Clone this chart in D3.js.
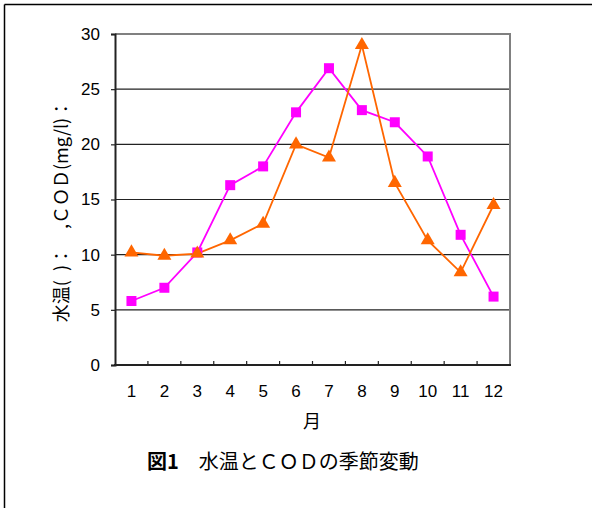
<!DOCTYPE html>
<html>
<head>
<meta charset="utf-8">
<script src="https://cdn.jsdelivr.net/npm/d3@7/dist/d3.min.js"></script>
<style>
  html, body { margin: 0; padding: 0; background: #fff; }
  svg { display: block; }
</style>
</head>
<body>
<svg id="chart" width="592" height="508"></svg>
<script>
// Monthly water temperature and COD
const months = ["1","2","3","4","5","6","7","8","9","10","11","12"];
const waterTemp = [5.8, 7.0, 10.2, 16.3, 18.0, 22.9, 26.9, 23.1, 22.0, 18.9, 11.8, 6.2];
const cod = [10.2, 9.9, 10.1, 11.3, 12.8, 20.0, 18.8, 29.0, 16.5, 11.3, 8.4, 14.5];
const yTicks = [0, 5, 10, 15, 20, 25, 30];

const svg = d3.select("#chart");
const W = 592, H = 508;
const plot = { left: 115, right: 510, top: 34, bottom: 365 };

const numFont = "'Liberation Sans', Arial, sans-serif";
const jpFont = "'Noto Sans CJK JP', sans-serif";

// outer frame (top and left edges)
svg.append("line").attr("x1", 4.5).attr("y1", 4.5).attr("x2", W).attr("y2", 4.5)
  .attr("stroke", "#000").attr("stroke-width", 1.5);
svg.append("line").attr("x1", 4.5).attr("y1", 4.5).attr("x2", 4.5).attr("y2", H)
  .attr("stroke", "#000").attr("stroke-width", 1.5);

const x = d3.scaleBand().domain(months).range([plot.left, plot.right]);
const y = d3.scaleLinear().domain([0, 30]).range([plot.bottom, plot.top]);

// horizontal gridlines
svg.append("g").selectAll("line")
  .data(yTicks.filter(t => t > 0 && t < 30))
  .join("line")
  .attr("x1", plot.left).attr("x2", plot.right)
  .attr("y1", d => y(d)).attr("y2", d => y(d))
  .attr("stroke", "#222").attr("stroke-width", 1.2);

// top and right border (gray)
svg.append("path")
  .attr("d", `M${plot.left},${plot.top}H${plot.right}V${plot.bottom}`)
  .attr("fill", "none").attr("stroke", "#808080").attr("stroke-width", 2);

// y axis
const yAxis = svg.append("g")
  .attr("transform", `translate(${plot.left},0)`)
  .call(d3.axisLeft(y).tickValues(yTicks).tickSize(4).tickPadding(11));
yAxis.select(".domain").attr("stroke", "#222").attr("stroke-width", 2);
yAxis.selectAll(".tick line").attr("stroke", "#222").attr("stroke-width", 1.2);
yAxis.selectAll("text").attr("font-family", numFont).attr("font-size", 17).attr("fill", "#000");

// x axis: ticks at band boundaries pointing inward
const xAxis = svg.append("g").attr("transform", `translate(0,${plot.bottom})`);
xAxis.append("line").attr("x1", plot.left - 1).attr("x2", plot.right + 1)
  .attr("stroke", "#222").attr("stroke-width", 2);
xAxis.selectAll(".bt").data(months.slice(1)).join("line")
  .attr("class", "bt")
  .attr("x1", d => x(d)).attr("x2", d => x(d))
  .attr("y1", 0).attr("y2", -4)
  .attr("stroke", "#222").attr("stroke-width", 1.2);
xAxis.selectAll("text").data(months).join("text")
  .attr("x", d => x(d) + x.bandwidth() / 2)
  .attr("y", 32)
  .attr("text-anchor", "middle")
  .attr("font-family", numFont).attr("font-size", 17)
  .text(d => d);

// axis titles
svg.append("text").attr("x", 312).attr("y", 428)
  .attr("text-anchor", "middle").attr("font-family", jpFont).attr("font-size", 18)
  .text("月");
svg.append("text")
  .attr("transform", "translate(68,211) rotate(-90)")
  .attr("text-anchor", "middle").attr("font-family", jpFont).attr("font-size", 18)
  .text("水温(\u2002)：　,ＣＯＤ(mg/l)：");

// lines and markers
const line = d3.line()
  .x((d, i) => x(months[i]) + x.bandwidth() / 2)
  .y(d => y(d));

svg.append("path").datum(waterTemp).attr("d", line)
  .attr("fill", "none").attr("stroke", "#ff00ff").attr("stroke-width", 1.8);
svg.append("path").datum(cod).attr("d", line)
  .attr("fill", "none").attr("stroke", "#ff6600").attr("stroke-width", 1.8);

svg.append("g").selectAll("rect").data(waterTemp).join("rect")
  .attr("x", (d, i) => x(months[i]) + x.bandwidth() / 2 - 5)
  .attr("y", d => y(d) - 5)
  .attr("width", 10).attr("height", 10)
  .attr("fill", "#ff00ff");

const tri = d3.symbol().type(d3.symbolTriangle).size(85);
svg.append("g").selectAll("path").data(cod).join("path")
  .attr("d", tri)
  .attr("transform", (d, i) => `translate(${x(months[i]) + x.bandwidth() / 2},${y(d)})`)
  .attr("fill", "#ff6600");

// figure caption
const cap = svg.append("text").attr("x", 147).attr("y", 469)
  .attr("font-family", jpFont).attr("font-size", 20).attr("fill", "#000");
cap.append("tspan").attr("font-weight", "bold").text("図1");
cap.append("tspan").text("　水温とＣＯＤの季節変動");
</script>
</body>
</html>
